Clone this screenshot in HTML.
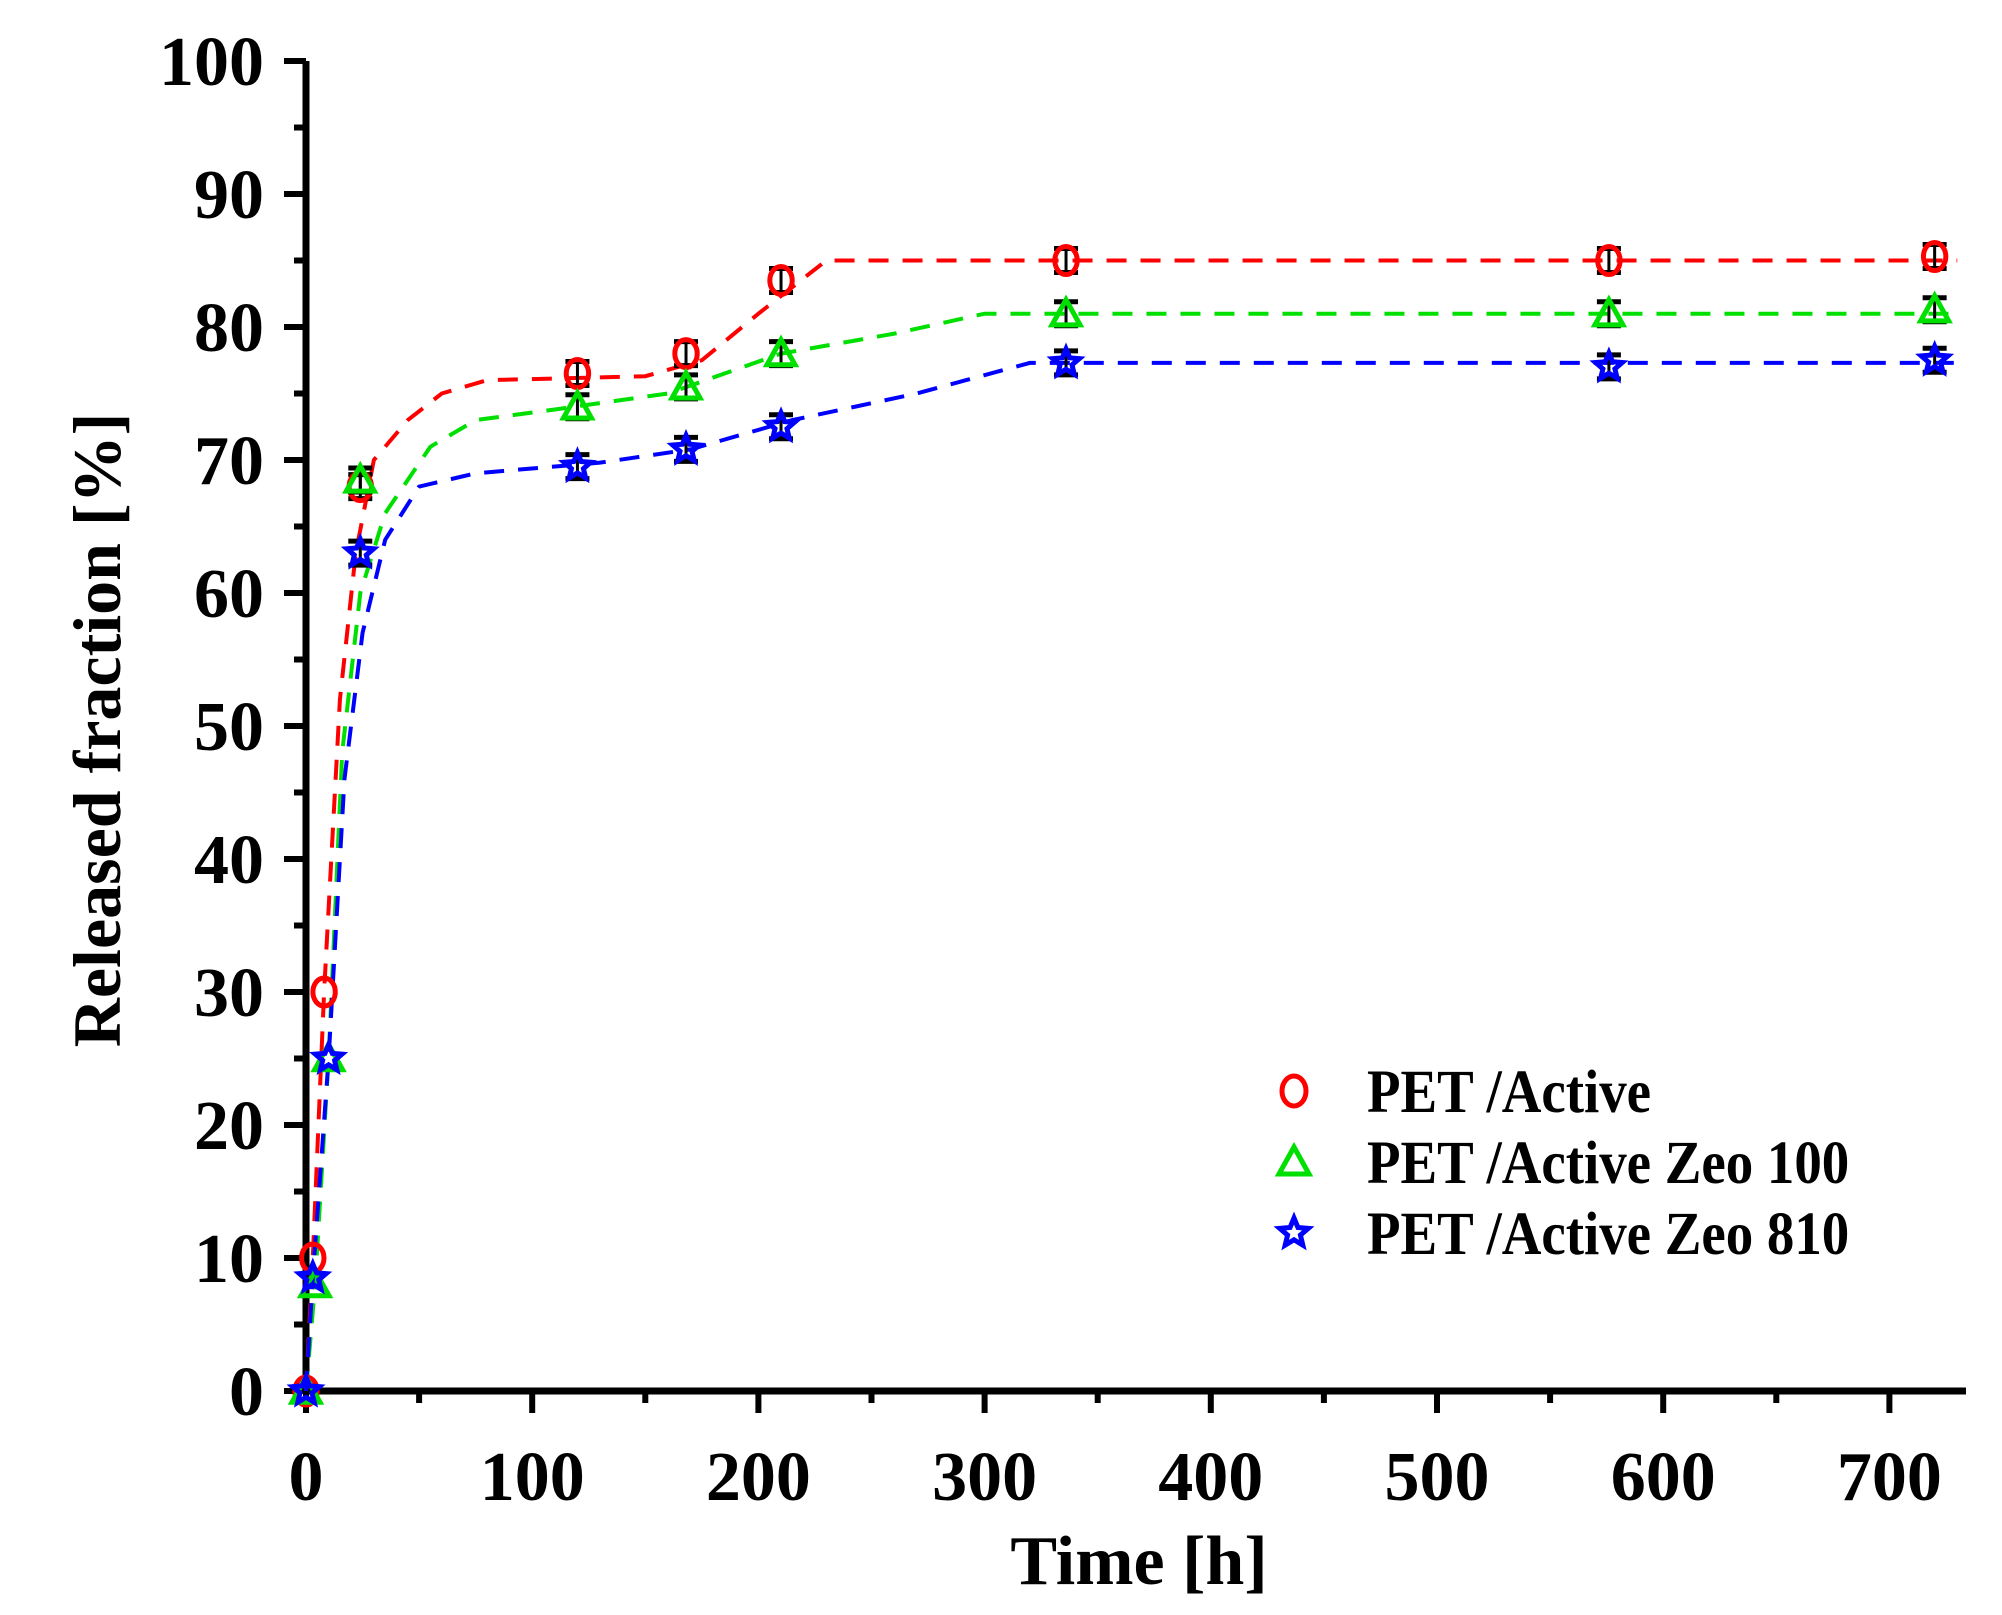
<!DOCTYPE html>
<html><head><meta charset="utf-8"><style>
html,body{margin:0;padding:0;background:#fff;}
svg{display:block;font-family:"Liberation Serif",serif;font-weight:bold;}
</style></head><body>
<svg id="s" width="2002" height="1615" viewBox="0 0 2002 1615" xmlns="http://www.w3.org/2000/svg"></svg>
<script>
const s=document.getElementById('s');
const X0=306,XS=2.262,Y0=1391,YS=13.3;
const X=t=>X0+t*XS, Y=v=>Y0-v*YS;
let h='';
h+=`<line x1="${X0}" y1="${Y(100)}" x2="${X0}" y2="${Y0+2}" stroke="#000" stroke-width="7"/>`;
h+=`<line x1="${X0-3}" y1="${Y0}" x2="1966" y2="${Y0}" stroke="#000" stroke-width="7"/>`;
for(let v=0;v<=100;v+=5){const maj=v%10==0;h+=`<line x1="${X0-(maj?22:12)}" y1="${Y(v)}" x2="${X0}" y2="${Y(v)}" stroke="#000" stroke-width="6"/>`;
 if(maj)h+=`<text x="264" y="${Y(v)+24}" font-size="70" text-anchor="end">${v}</text>`;}
for(let t=0;t<=700;t+=50){const maj=t%100==0;h+=`<line x1="${X(t)}" y1="${Y0}" x2="${X(t)}" y2="${Y0+(maj?22:12)}" stroke="#000" stroke-width="6"/>`;
 if(maj)h+=`<text x="${X(t)}" y="1500" font-size="70" text-anchor="middle">${t}</text>`;}
h+=`<text x="1139" y="1584" font-size="70" text-anchor="middle">Time [h]</text>`;
h+=`<text transform="translate(120,730) rotate(-90)" font-size="68" text-anchor="middle">Released fraction [%]</text>`;
const curves=[
['#ff0000',[[0,0],[3,10],[8,30],[15,52],[22,63],[30,70],[45,73],[60,75],[80,76],[150,76.3],[175,77.5],[200,81],[230,85],[730,85]]],
['#00e000',[[0,0],[4,8],[10,25],[16,48],[24,60],[35,66],[55,71],[75,73],[110,73.8],[160,75],[210,78],[260,79.5],[300,81],[730,81]]],
['#0000ff',[[0,0],[3,8.5],[10,25],[17,46],[25,57],[35,64],[50,68],[75,69],[130,69.8],[170,70.8],[215,73],[270,75],[320,77.3],[730,77.3]]]];
for(const [c,p] of curves){h+=`<polyline fill="none" stroke="${c}" stroke-width="4" stroke-dasharray="20,14" points="${p.map(q=>X(q[0])+','+Y(q[1])).join(' ')}"/>`;}
function mk(type,c,x,y,r){
 if(type=='o')return `<ellipse cx="${x}" cy="${y}" rx="${r*0.8}" ry="${r}" fill="none" stroke="${c}" stroke-width="5"/>`;
 if(type=='t')return `<polygon points="${x},${y-r} ${x+r},${y+r*0.8} ${x-r},${y+r*0.8}" fill="none" stroke="${c}" stroke-width="5"/>`;
 let pts=[];for(let i=0;i<10;i++){const a=-Math.PI/2+i*Math.PI/5,rr=i%2?r*0.45:r;pts.push((x+rr*Math.cos(a))+','+(y+rr*Math.sin(a)));}
 return `<polygon points="${pts.join(' ')}" fill="none" stroke="${c}" stroke-width="5"/>`;}
const data=[
['o','#ff0000',[[0,0],[3,10],[8,30],[24,68],[120,76.5],[168,78],[210,83.5],[336,85],[576,85],[720,85.3]]],
['t','#00e000',[[0,0],[4,8],[10,25],[24,68.5],[120,74],[168,75.5],[210,78],[336,81],[576,81],[720,81.3]]],
['s','#0000ff',[[0,0],[3,8.5],[10,25],[24,63],[120,69.5],[168,70.8],[210,72.5],[336,77.3],[576,77],[720,77.5]]]];
for(const [t,c,p] of data){for(const [a,b] of p){const x=X(a),y=Y(b);
 if(a>=24){h+=`<line x1="${x}" y1="${y-12}" x2="${x}" y2="${y+12}" stroke="#000" stroke-width="3"/><line x1="${x-12}" y1="${y-12}" x2="${x+12}" y2="${y-12}" stroke="#000" stroke-width="5"/><line x1="${x-12}" y1="${y+12}" x2="${x+12}" y2="${y+12}" stroke="#000" stroke-width="5"/>`;}
 h+=mk(t,c,x,y,14);}}
const leg=[['o','#ff0000','PET /Active',1091],['t','#00e000','PET /Active Zeo 100',1162],['s','#0000ff','PET /Active Zeo 810',1233]];
for(const [t,c,l,y] of leg){h+=mk(t,c,1294,y,15);h+=`<text x="1367" y="${y+21}" font-size="61" transform="translate(1367,0) scale(0.9,1) translate(-1367,0)">${l}</text>`;}
s.innerHTML=h;
</script>
</body></html>
